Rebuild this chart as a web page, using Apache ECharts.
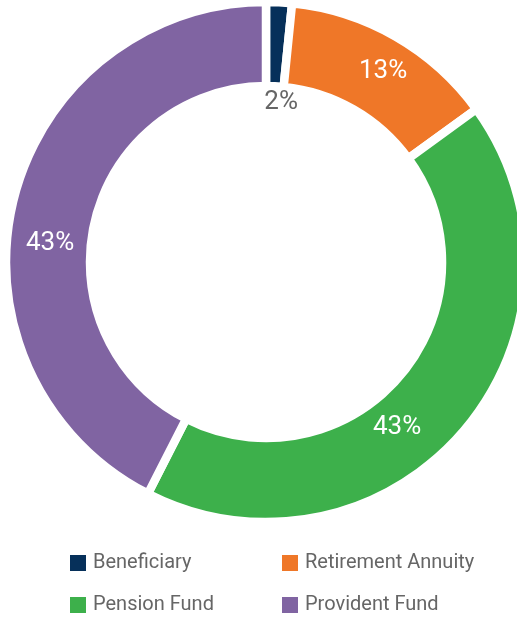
<!DOCTYPE html>
<html lang="en">
<head>
    <meta charset="UTF-8">
    <title>Fund Type Split</title>
    <script src="https://cdn.jsdelivr.net/npm/echarts@6/dist/echarts.min.js"></script>
    <style>
        html, body { margin: 0; padding: 0; background: #fff; }
        #chart { width: 517px; height: 617px; }
    </style>
</head>
<body>
    <div id="chart"></div>
    <script>
        // data
        var categories = ['Beneficiary', 'Retirement Annuity', 'Pension Fund', 'Provident Fund'];
        var shares = [1.6, 13.4, 42.5, 42.5];
        var colors = ['#06305a', '#ef7728', '#3db04b', '#8064a2'];

        // label tweaks so the text sits where the original put it
        var labelTweaks = [
            { offset: [4, 61], color: '#666666' },
            { offset: [7, 1], color: '#ffffff' },
            { offset: [-37, 22], color: '#ffffff' },
            { offset: [-1, 33], color: '#ffffff' }
        ];

        var font = '"Roboto", sans-serif';

        var seriesData = categories.map(function (name, i) {
            return {
                name: name,
                value: shares[i],
                itemStyle: { color: colors[i] },
                label: labelTweaks[i]
            };
        });

        var chart = echarts.init(document.getElementById('chart'));

        var legendBase = {
            orient: 'vertical',
            top: 553,
            height: 80,
            padding: 0,
            itemWidth: 18,
            itemHeight: 18,
            itemGap: 22,
            icon: 'rect',
            selectedMode: false,
            textStyle: { color: '#666666', fontSize: 20, lineHeight: 18, fontFamily: font, padding: [0, 0, 0, 1] }
        };

        chart.setOption({
            animation: false,
            legend: [
                Object.assign({}, legendBase, { left: 68, data: ['Beneficiary', 'Pension Fund'] }),
                Object.assign({}, legendBase, { left: 280, data: ['Retirement Annuity', 'Provident Fund'] })
            ],
            series: [{
                type: 'pie',
                center: [266, 262],
                radius: [176, 260],
                startAngle: 90,
                clockwise: true,
                avoidLabelOverlap: false,
                itemStyle: { borderColor: '#ffffff', borderWidth: 8.5 },
                label: {
                    show: true,
                    position: 'inside',
                    fontSize: 26,
                    fontFamily: font,
                    formatter: function (p) { return Math.round(p.value) + '%'; }
                },
                labelLine: { show: false },
                emphasis: { disabled: true },
                data: seriesData
            }]
        });
    </script>
</body>
</html>
